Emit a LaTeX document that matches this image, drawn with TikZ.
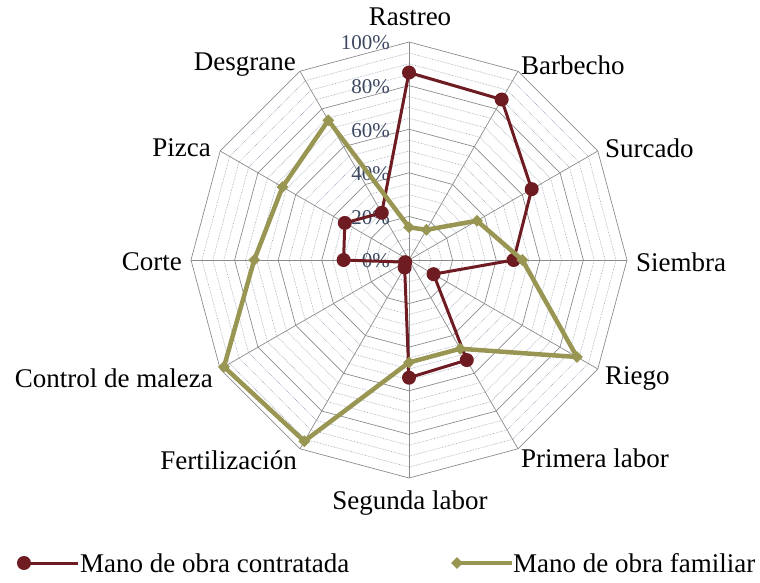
\documentclass[tikz,border=0pt]{standalone}
\usepackage{fontspec}
\setmainfont{Liberation Serif}
\usepackage{xcolor}
\usepackage{tikz}
\usetikzlibrary{shapes.geometric, positioning}

\definecolor{contratada}{RGB}{110,28,34}
\definecolor{familiar}{RGB}{152,150,82}
\definecolor{rejilla}{RGB}{140,140,140}
\definecolor{rejillafina}{RGB}{150,158,178}
\definecolor{porcentaje}{RGB}{60,72,96}

\tikzset{
    etiqueta/.style={font=\fontsize{27}{30}\selectfont, inner sep=0pt},
    porc/.style={font=\fontsize{21}{24}\selectfont, text=porcentaje, inner sep=0pt, anchor=east},
    marcafam/.style={diamond, fill=familiar, inner sep=0pt, minimum size=12pt},
    lineacon/.style={contratada, line width=3pt, line join=round},
    lineafam/.style={familiar, line width=4.5pt, line join=round}
}

\begin{document}
\begin{tikzpicture}[x=1pt, y=1pt]
    \useasboundingbox (-409,-323) rectangle (351,260);

    % 中心与外圈顶点
    \coordinate (O) at (0,0);
    \foreach \i in {1,...,12}
        \coordinate (v\i) at ({120-30*\i}:218);

    % 细网格(每5%)
    \foreach \r in {5,10,15,25,30,35,45,50,55,65,70,75,85,90,95}
        \draw[rejillafina, densely dotted, line width=0.6pt] (90:{2.18*\r})
            \foreach \a in {60,30,...,-240} { -- (\a:{2.18*\r}) } -- cycle;

    % 主网格(每20%)
    \foreach \r in {20,40,...,100}
        \draw[rejilla, line width=0.7pt] (90:{2.18*\r})
            \foreach \a in {60,30,...,-240} { -- (\a:{2.18*\r}) } -- cycle;

    % 轴线
    \foreach \i in {1,...,12}
        \draw[rejilla, line width=0.7pt] (O) -- (v\i);

    % 百分比刻度
    \foreach \k/\t in {0/0,1/20,2/40,3/60,4/80,5/100}
        \node[porc] (p\k) at (-19,{43.6*\k-1}) {\t\%};

    % 轴标签
    \node[etiqueta] (rastreo) at (1,243) {Rastreo};
    \node[etiqueta, anchor=west] (barbecho) at (112,195) {Barbecho};
    \node[etiqueta, anchor=west] (surcado) at (196,112) {Surcado};
    \node[etiqueta, anchor=west] (siembra) at (227,-2) {Siembra};
    \node[etiqueta, anchor=west] (riego) at (196,-118) {Riego};
    \node[etiqueta, anchor=west] (primera) at (112,-198) {Primera labor};
    \node[etiqueta] (segunda) at (1,-243) {Segunda labor};
    \node[etiqueta, anchor=east] (fertilizacion) at (-112,-200) {Fertilización};
    \node[etiqueta, anchor=east] (control) at (-196,-118) {Control de maleza};
    \node[etiqueta, anchor=east] (corte) at (-227,-2) {Corte};
    \node[etiqueta, anchor=east] (pizca) at (-198,112) {Pizca};
    \node[etiqueta, anchor=east] (desgrane) at (-113,195) {Desgrane};

    % 数据点
    \foreach \v [count=\i] in {86,85,65,48,13,53,54,4,2,30,34,25}
        \coordinate (c\i) at ({120-30*\i}:{2.18*\v});
    \foreach \v [count=\i] in {15,16,36,52,89,47,47,96,98,71,67,74}
        \coordinate (f\i) at ({120-30*\i}:{2.18*\v});

    % mano de obra contratada
    \draw[lineacon] (c1) -- (c2) -- (c3) -- (c4) -- (c5) -- (c6) -- (c7)
        -- (c8) -- (c9) -- (c10) -- (c11) -- (c12) -- cycle;
    \foreach \i in {1,...,12}
        \fill[contratada] (c\i) circle (7);

    % mano de obra familiar
    \draw[lineafam] (f1) -- (f2) -- (f3) -- (f4) -- (f5) -- (f6) -- (f7)
        -- (f8) -- (f9) -- (f10) -- (f11) -- (f12) -- cycle;
    \foreach \i in {1,...,12}
        \node[marcafam] (mf\i) at (f\i) {};

    % 图例
    \coordinate (l1) at (-385,-303);
    \coordinate (l1b) at (-331,-303);
    \draw[lineacon] (l1) -- (l1b);
    \fill[contratada] (l1) circle (7);
    \node[etiqueta, right=2pt of l1b] (leyenda1) {Mano de obra contratada};

    \coordinate (l2) at (48,-303);
    \coordinate (l2b) at (103,-303);
    \draw[lineafam] (l2) -- (l2b);
    \node[marcafam] (ml2) at (l2) {};
    \node[etiqueta, right=1pt of l2b] (leyenda2) {Mano de obra familiar};
\end{tikzpicture}
\end{document}
